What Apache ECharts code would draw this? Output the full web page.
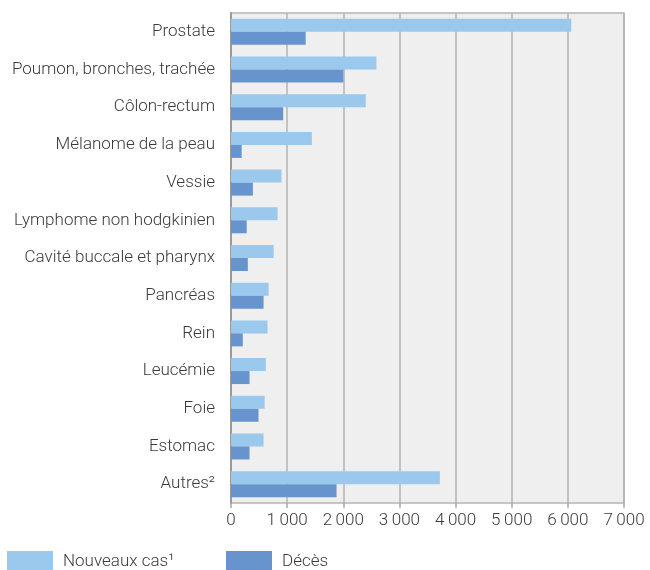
<!DOCTYPE html>
<html><head><meta charset="utf-8">
<script src="https://cdn.jsdelivr.net/npm/echarts@6/dist/echarts.min.js"></script>
<style>html,body{margin:0;padding:0;background:#fff}#c{width:650px;height:570px}</style>
</head><body><div id="c"></div>
<script>
const categories = ["Prostate","Poumon, bronches, trachée","Côlon-rectum","Mélanome de la peau","Vessie","Lymphome non hodgkinien","Cavité buccale et pharynx","Pancréas","Rein","Leucémie","Foie","Estomac","Autres²"];
const nouveauxCas = [6060,2590,2400,1440,900,830,760,670,650,620,600,580,3720];
const deces = [1330,2000,930,190,390,280,300,580,210,330,490,330,1880];
const xTicks = [0,1000,2000,3000,4000,5000,6000,7000];
const seriesNames = ["Nouveaux cas¹","Décès"];

const fmt = v => v === 0 ? "0" : String(v).replace(/\B(?=(\d{3})+(?!\d))/g, "\u2009");
const txt = '#3A3A3A';
const font = 'Roboto';
const fw = 300;
const fs = 17;
const chart = echarts.init(document.getElementById('c'));
chart.setOption({
  animation:false,
  textStyle:{fontFamily:font,fontWeight:fw},
  grid:{left:231,right:26,top:13,bottom:67,show:true,backgroundColor:'#EFEFEF',borderColor:'#B5B5B5',borderWidth:1.5},
  legend:[
    {data:[seriesNames[0]],icon:'rect',left:7,top:551,padding:0,itemWidth:46,itemHeight:22,itemGap:0,textStyle:{fontFamily:font,fontWeight:fw,fontSize:fs,color:txt,padding:[0,0,0,5]}},
    {data:[seriesNames[1]],icon:'rect',left:226,top:551,padding:0,itemWidth:46,itemHeight:22,itemGap:0,textStyle:{fontFamily:font,fontWeight:fw,fontSize:fs,color:txt,padding:[0,0,0,5]}}
  ],
  xAxis:{type:'value',min:xTicks[0],max:xTicks[xTicks.length-1],interval:1000,
    axisLine:{show:false},
    axisTick:{show:true,length:5,lineStyle:{color:'#A8A8A8',width:1.5}},
    axisLabel:{formatter:fmt,fontFamily:font,fontWeight:fw,fontSize:fs,color:txt,margin:9},
    splitLine:{show:true,lineStyle:{color:'#B3B3B3',width:1.5}}},
  yAxis:{type:'category',data:categories,inverse:true,
    axisLine:{show:true,lineStyle:{color:'#9A9A9A',width:2}},
    axisTick:{show:false},
    axisLabel:{fontFamily:font,fontWeight:fw,fontSize:fs,color:txt,margin:16}},
  series:[
    {name:seriesNames[0],type:'bar',data:nouveauxCas,barWidth:13,barGap:'0%',itemStyle:{color:'#9BC8ED'}},
    {name:seriesNames[1],type:'bar',data:deces,barWidth:13,barGap:'0%',itemStyle:{color:'#6894CE'}}
  ]
});
</script></body></html>
